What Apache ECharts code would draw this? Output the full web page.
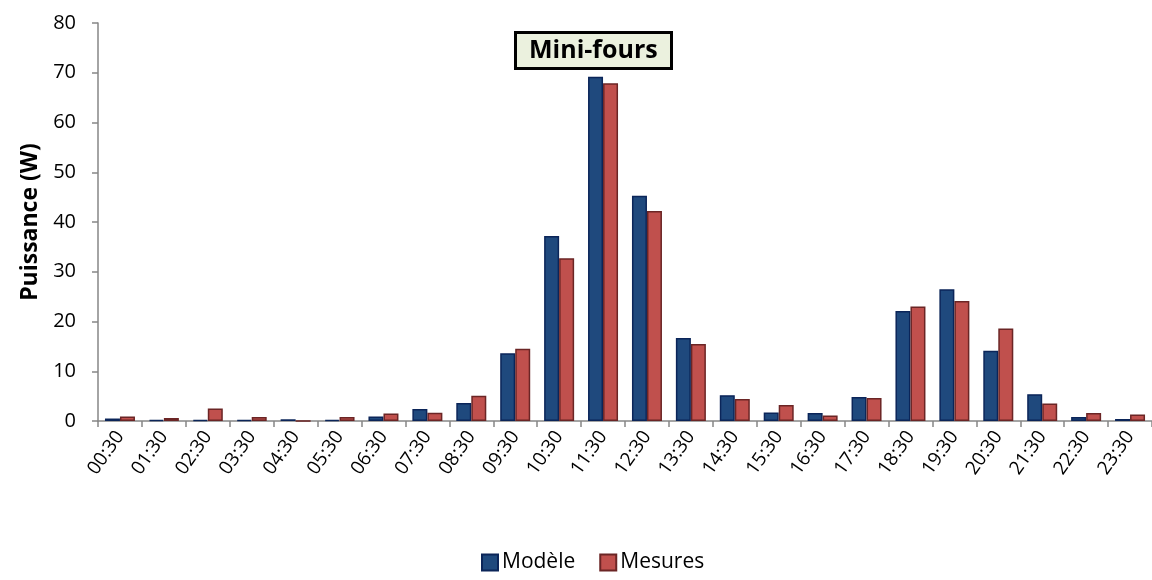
<!DOCTYPE html>
<html><head><meta charset="utf-8">
<script src="https://cdn.jsdelivr.net/npm/echarts@6/dist/echarts.min.js"></script>
<style>html,body{margin:0;padding:0;background:#fff}#c{width:1152px;height:580px}</style>
</head><body><div id="c"></div>
<script>
const categories = ['00:30','01:30','02:30','03:30','04:30','05:30','06:30','07:30','08:30','09:30','10:30','11:30','12:30','13:30','14:30','15:30','16:30','17:30','18:30','19:30','20:30','21:30','22:30','23:30'];
const modele = [0.5,0.25,0.2,0.2,0.35,0.25,0.9,2.4,3.6,13.6,37.2,69.2,45.3,16.7,5.2,1.7,1.6,4.8,22.1,26.5,14.1,5.4,0.8,0.4];
const mesures = [0.9,0.6,2.5,0.8,0,0.8,1.5,1.65,5.1,14.5,32.7,67.9,42.2,15.5,4.4,3.2,1.1,4.6,23.0,24.1,18.6,3.5,1.6,1.3];
const yTicks = [0,10,20,30,40,50,60,70,80];
const font = 'Open Sans';
const chart = echarts.init(document.getElementById('c'));
chart.setOption({
  animation:false,
  textStyle:{fontFamily:font},
  title:{text:'Mini-fours',left:515,top:32,
    backgroundColor:'#EBF1DE',borderColor:'#000',borderWidth:3,padding:[2,14,2,14],
    textStyle:{fontFamily:font,fontWeight:'bold',fontSize:25,lineHeight:33,color:'#000'}},
  legend:{bottom:2,left:476,itemWidth:16,itemHeight:16,itemGap:24,icon:'rect',
    textStyle:{fontFamily:font,fontSize:21,color:'#000',padding:[0,0,0,-1]},
    data:['Modèle','Mesures']},
  grid:{left:98,right:0,top:23,bottom:159,containLabel:false},
  xAxis:{type:'category',data:categories,
    axisLine:{lineStyle:{color:'#868686',width:1.5}},
    axisTick:{show:true,alignWithLabel:false,length:6,lineStyle:{color:'#868686',width:1.5}},
    axisLabel:{rotate:55,fontSize:19,color:'#000',margin:12,interval:0}},
  yAxis:{type:'value',min:0,max:80,interval:10,
    name:'Puissance (W)',nameLocation:'middle',nameGap:56,
    nameTextStyle:{fontFamily:font,fontWeight:'bold',fontSize:23,color:'#000'},
    axisLine:{show:true,lineStyle:{color:'#868686',width:1.5}},
    axisTick:{show:true,length:6,lineStyle:{color:'#868686',width:1.5}},
    axisLabel:{fontSize:20,color:'#000',margin:22,
      formatter:v=>yTicks.includes(v)?String(v):''},
    splitLine:{show:false}},
  series:[
    {name:'Modèle',type:'bar',data:modele,barWidth:15,barGap:'0%',
     itemStyle:{color:'#1F497D',borderColor:'#0B2559',borderWidth:1.5}},
    {name:'Mesures',type:'bar',data:mesures,barWidth:15,barGap:'0%',
     itemStyle:{color:'#C0504D',borderColor:'#6B2525',borderWidth:1.5}}
  ]
});
</script></body></html>
